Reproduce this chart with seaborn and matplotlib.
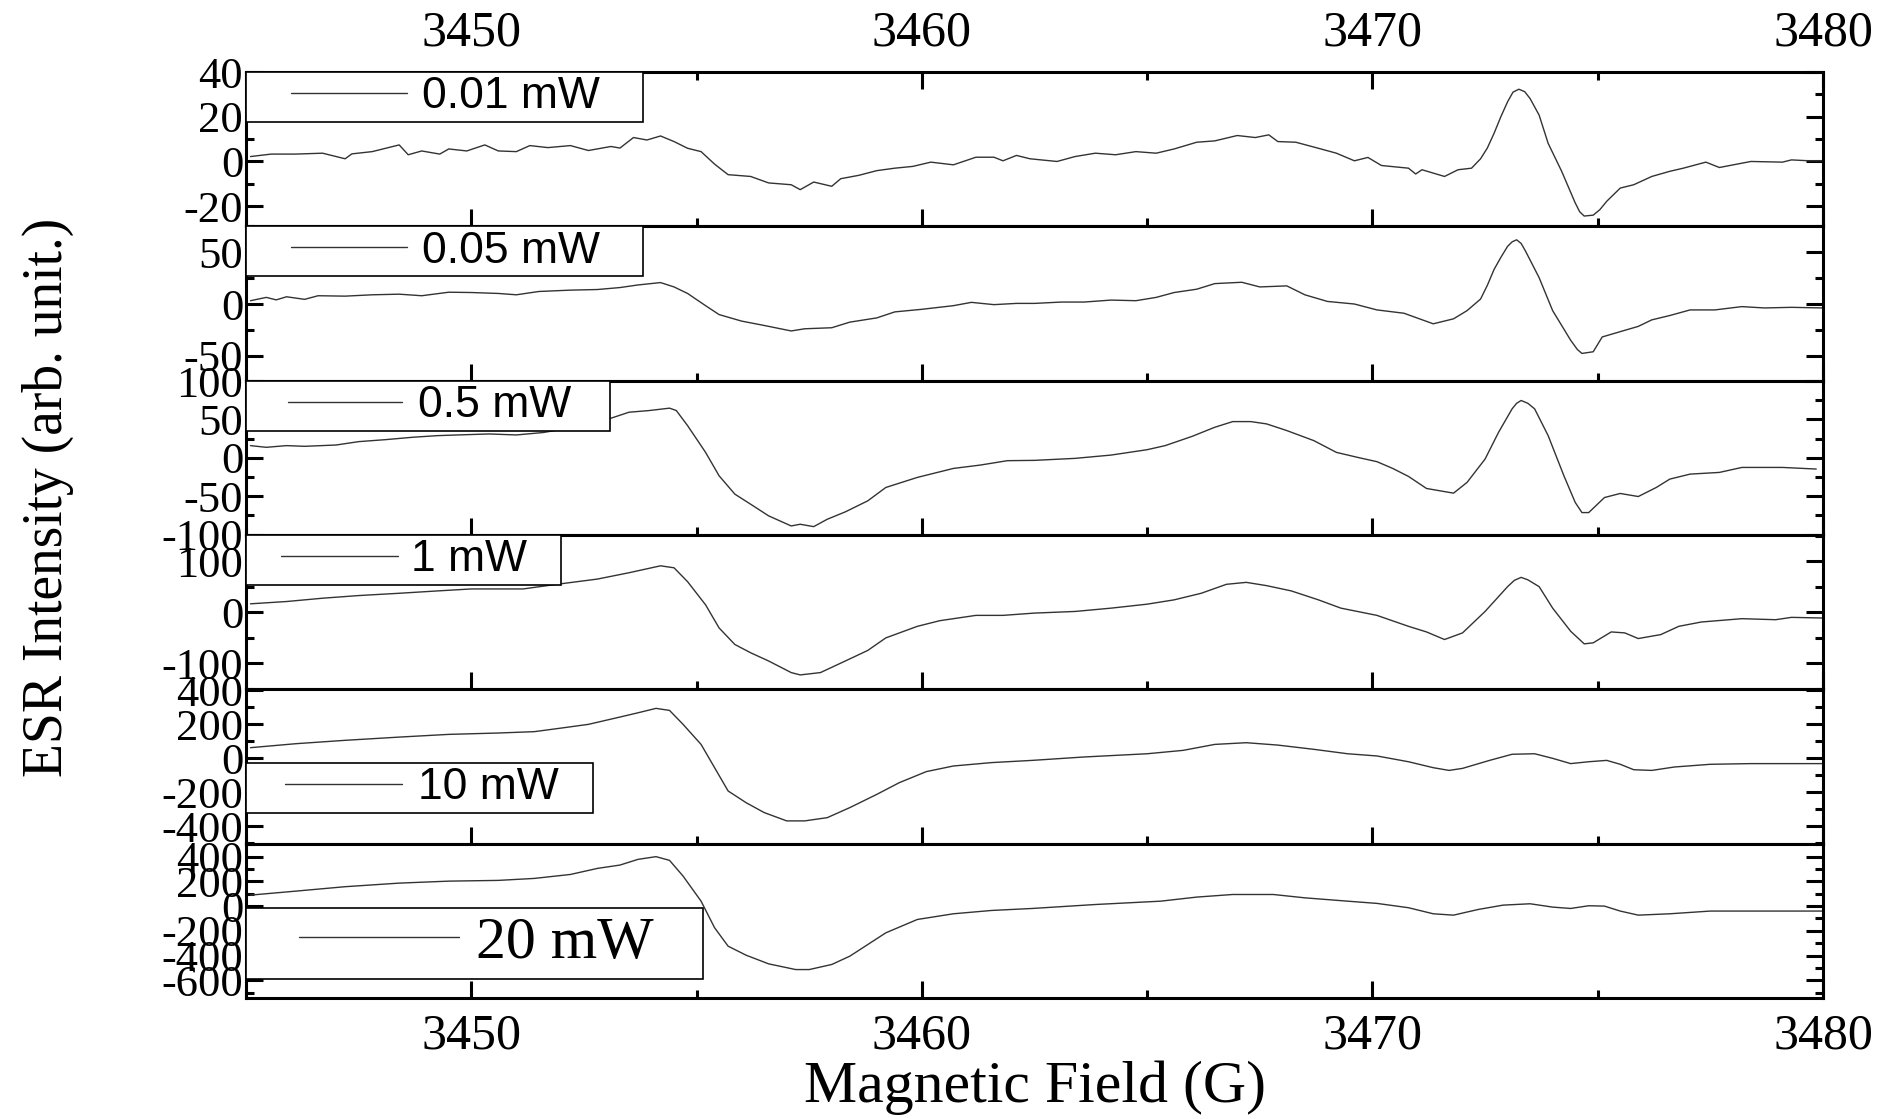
import matplotlib
matplotlib.use("Agg")
import matplotlib.pyplot as plt
import seaborn as sns
import pandas as pd
from matplotlib.lines import Line2D
from matplotlib.legend_handler import HandlerBase
from matplotlib.ticker import MultipleLocator
from matplotlib.font_manager import FontProperties

# ---------------- data (field in G, intensity in arb. units) ----------------
p_001 = [(3445.1, 2.2), (3445.56, 3.3), (3446.1, 3.3), (3446.7, 3.7), (3447.2, 1.2), (3447.35, 3.4),
         (3447.8, 4.4), (3448.4, 7.4), (3448.6, 3.0), (3448.9, 4.7), (3449.3, 3.3), (3449.5, 5.6),
         (3449.9, 4.7), (3450.3, 7.4), (3450.6, 4.7), (3451.0, 4.4), (3451.3, 7.1), (3451.7, 6.2),
         (3452.2, 7.1), (3452.6, 4.9), (3453.1, 6.7), (3453.3, 6.0), (3453.6, 10.7), (3453.9, 9.6),
         (3454.2, 11.4), (3454.5, 8.9), (3454.8, 5.9), (3455.1, 4.4), (3455.4, -1.2), (3455.7, -5.9),
         (3456.2, -6.7), (3456.6, -9.6), (3457.1, -10.4), (3457.3, -12.6), (3457.6, -9.2), (3458.0, -11.1),
         (3458.2, -7.7), (3458.6, -6.2), (3459.0, -4.1), (3459.4, -3.0), (3459.8, -2.2), (3460.2, -0.3),
         (3460.7, -1.5), (3461.2, 1.9), (3461.6, 1.9), (3461.8, 0.3), (3462.1, 2.7), (3462.4, 1.2),
         (3463.0, 0.0), (3463.4, 2.2), (3463.85, 3.7), (3464.3, 3.0), (3464.75, 4.4), (3465.2, 3.7),
         (3465.6, 5.6), (3466.1, 8.6), (3466.5, 9.2), (3467.0, 11.6), (3467.4, 10.7), (3467.7, 11.9),
         (3467.9, 8.9), (3468.3, 8.6), (3468.8, 5.9), (3469.2, 3.7), (3469.6, 0.3), (3469.9, 1.8),
         (3470.2, -1.8), (3470.8, -3.0), (3470.96, -5.6), (3471.1, -3.7), (3471.6, -6.7), (3471.9, -3.7),
         (3472.2, -3.0), (3472.4, 1.2), (3472.55, 6.0), (3472.7, 12.6), (3472.85, 20.0), (3473.0, 26.7),
         (3473.12, 31.0), (3473.25, 32.3), (3473.38, 31.2), (3473.5, 28.1), (3473.7, 20.7), (3473.9, 8.1),
         (3474.2, -4.4), (3474.5, -18.5), (3474.6, -22.5), (3474.7, -24.4), (3474.9, -24.0), (3475.05, -21.5),
         (3475.2, -17.8), (3475.5, -11.9), (3475.8, -10.4), (3476.2, -6.7), (3476.6, -4.4), (3476.9, -3.0),
         (3477.4, -0.3), (3477.7, -2.7), (3478.4, 0.0), (3479.1, -0.3), (3479.3, 0.7), (3479.7, 0.3),
         (3480.0, 0.3)]

p_005 = [(3445.1, 3.2), (3445.45, 6.4), (3445.67, 4.0), (3445.9, 7.0), (3446.3, 4.5), (3446.6, 8.0),
         (3447.2, 7.6), (3447.8, 8.9), (3448.4, 9.5), (3448.9, 8.0), (3449.5, 11.4), (3450.0, 11.1),
         (3450.6, 10.2), (3451.0, 8.9), (3451.5, 12.1), (3452.2, 13.4), (3452.8, 14.0), (3453.3, 15.9),
         (3453.7, 18.4), (3454.2, 20.7), (3454.5, 16.5), (3454.8, 10.2), (3455.2, -1.6), (3455.5, -10.2),
         (3456.0, -16.5), (3456.5, -20.7), (3457.1, -26.0), (3457.4, -23.9), (3458.0, -22.9), (3458.4, -17.5),
         (3459.0, -13.4), (3459.4, -7.6), (3460.0, -5.1), (3460.7, -1.6), (3461.1, 1.6), (3461.6, -0.6),
         (3462.1, 0.6), (3462.5, 0.6), (3463.1, 1.9), (3463.6, 1.9), (3464.2, 3.8), (3464.75, 3.2),
         (3465.2, 6.4), (3465.6, 11.1), (3466.1, 14.3), (3466.5, 19.7), (3467.1, 21.0), (3467.5, 16.5),
         (3468.1, 17.5), (3468.5, 8.9), (3469.0, 2.5), (3469.6, 0.0), (3470.1, -5.7), (3470.7, -8.9),
         (3471.35, -19.1), (3471.8, -14.3), (3472.1, -6.4), (3472.4, 4.8), (3472.55, 18.0), (3472.7, 33.4),
         (3472.85, 45.0), (3473.0, 55.7), (3473.1, 60.0), (3473.2, 62.0), (3473.3, 58.5), (3473.4, 50.9),
         (3473.7, 25.4), (3474.0, -6.4), (3474.4, -35.0), (3474.55, -44.0), (3474.65, -47.7), (3474.9, -46.1),
         (3475.1, -31.8), (3475.6, -25.4), (3475.9, -21.6), (3476.2, -15.3), (3476.6, -11.1), (3477.05, -5.7),
         (3477.6, -5.7), (3478.2, -2.5), (3478.7, -3.8), (3479.3, -3.2), (3480.0, -3.8)]

p_05 = [(3445.1, 15.9), (3445.45, 13.7), (3445.9, 15.9), (3446.3, 15.0), (3447.0, 16.7), (3447.5, 21.1),
        (3448.1, 23.7), (3448.7, 26.8), (3449.25, 28.9), (3449.7, 29.8), (3450.4, 31.1), (3451.0, 29.8),
        (3451.6, 33.0), (3452.3, 40.0), (3453.1, 51.6), (3453.5, 59.4), (3453.95, 61.6), (3454.4, 64.7),
        (3454.55, 61.6), (3454.8, 42.0), (3455.2, 7.1), (3455.5, -23.4), (3455.85, -47.3), (3456.2, -60.4),
        (3456.6, -75.6), (3457.1, -88.7), (3457.3, -86.5), (3457.6, -89.6), (3457.9, -80.0), (3458.3, -70.4),
        (3458.8, -56.0), (3459.2, -38.6), (3459.9, -25.5), (3460.7, -13.8), (3461.3, -9.4), (3461.9, -3.7),
        (3462.5, -3.3), (3463.4, -0.7), (3464.2, 3.6), (3465.0, 10.6), (3465.4, 15.9), (3466.0, 28.0),
        (3466.5, 39.8), (3466.9, 47.2), (3467.3, 47.2), (3467.65, 44.2), (3468.1, 35.5), (3468.7, 22.4),
        (3469.2, 7.1), (3469.7, 0.2), (3470.1, -5.0), (3470.45, -13.8), (3470.8, -24.2), (3471.2, -39.9),
        (3471.8, -46.0), (3472.1, -32.0), (3472.5, -1.6), (3472.8, 33.3), (3473.1, 63.8), (3473.2, 71.0),
        (3473.3, 74.7), (3473.45, 71.0), (3473.6, 63.8), (3473.9, 28.9), (3474.25, -23.4), (3474.5, -58.0),
        (3474.65, -71.3), (3474.8, -71.3), (3475.15, -51.7), (3475.5, -46.4), (3475.9, -50.4), (3476.3, -38.6),
        (3476.6, -27.7), (3477.05, -21.2), (3477.7, -19.0), (3478.2, -12.5), (3479.1, -12.5), (3479.85, -14.6)]

p_1 = [(3445.1, 16.9), (3445.9, 21.4), (3446.7, 27.9), (3447.5, 33.1), (3448.4, 37.6), (3449.25, 42.2),
       (3450.0, 46.1), (3451.15, 46.1), (3451.9, 55.2), (3452.8, 65.5), (3453.5, 77.9), (3454.2, 91.5),
       (3454.5, 87.6), (3454.8, 60.4), (3455.2, 14.9), (3455.5, -30.5), (3455.85, -63.0), (3456.2, -79.2),
       (3456.6, -95.4), (3457.1, -118.1), (3457.3, -122.7), (3457.75, -118.1), (3458.3, -95.4), (3458.8, -74.6),
       (3459.2, -50.0), (3459.9, -27.3), (3460.4, -16.2), (3461.2, -5.8), (3461.8, -5.8), (3462.5, -1.3),
       (3463.4, 1.9), (3464.2, 8.4), (3465.0, 16.2), (3465.6, 24.7), (3466.2, 37.6), (3466.76, 55.2),
       (3467.2, 59.0), (3467.65, 52.6), (3468.2, 42.2), (3468.8, 24.7), (3469.3, 8.4), (3470.1, -5.8),
       (3470.8, -27.3), (3471.2, -38.3), (3471.6, -53.2), (3472.0, -40.2), (3472.5, 1.9), (3473.0, 50.6),
       (3473.15, 63.0), (3473.3, 68.8), (3473.45, 64.0), (3473.7, 50.6), (3474.0, 8.4), (3474.4, -37.0),
       (3474.7, -61.7), (3474.9, -59.7), (3475.3, -38.3), (3475.6, -40.2), (3475.9, -51.3), (3476.4, -43.5),
       (3476.8, -27.3), (3477.3, -18.8), (3478.2, -12.3), (3478.95, -14.3), (3479.3, -9.7), (3480.0, -11.0)]

p_10 = [(3445.1, 62.7), (3446.1, 86), (3447.2, 106), (3448.4, 125), (3449.5, 141), (3450.6, 149),
        (3451.4, 157), (3452.05, 180), (3452.6, 200), (3453.3, 243), (3453.7, 268), (3454.1, 294),
        (3454.4, 282), (3454.7, 200), (3455.1, 82), (3455.4, -55), (3455.7, -192), (3456.1, -261),
        (3456.5, -319), (3457.0, -368), (3457.4, -368), (3457.9, -349), (3458.4, -290), (3459.0, -212),
        (3459.5, -143), (3460.1, -78), (3460.7, -45), (3461.55, -25), (3462.45, -12), (3463.6, 8),
        (3465.0, 27), (3465.8, 47), (3466.5, 82), (3467.2, 92), (3467.9, 78), (3468.7, 53),
        (3469.45, 27), (3470.1, 14), (3470.8, -20), (3471.35, -55), (3471.7, -71), (3472.0, -59),
        (3472.6, -12), (3473.1, 24), (3473.6, 27), (3474.0, 0), (3474.4, -31), (3474.8, -20),
        (3475.2, -12), (3475.5, -35), (3475.8, -67), (3476.2, -71), (3476.7, -51), (3477.5, -35),
        (3478.4, -31), (3479.1, -31), (3480.0, -31)]

p_20 = [(3445.1, 89), (3446.1, 121), (3447.2, 157), (3448.4, 186), (3449.5, 202), (3450.6, 208),
        (3451.4, 224), (3452.2, 256), (3452.8, 305), (3453.3, 332), (3453.7, 378), (3454.1, 400),
        (3454.4, 370), (3454.7, 243), (3455.1, 40), (3455.4, -175), (3455.7, -324), (3456.1, -397),
        (3456.6, -467), (3457.2, -513), (3457.5, -513), (3458.0, -472), (3458.4, -405), (3459.2, -216),
        (3459.9, -108), (3460.7, -62), (3461.55, -35), (3462.45, -19), (3463.85, 13), (3465.3, 40),
        (3466.1, 73), (3466.9, 94), (3467.8, 94), (3468.5, 67), (3469.45, 40), (3470.1, 22),
        (3470.8, -13), (3471.35, -62), (3471.8, -73), (3472.35, -27), (3472.9, 8), (3473.5, 19),
        (3474.0, -8), (3474.4, -19), (3474.8, 3), (3475.15, 0), (3475.5, -40), (3475.9, -73),
        (3476.6, -62), (3477.5, -40), (3478.2, -40), (3480.0, -40)]

labels = ["0.01 mW", "0.05 mW", "0.5 mW", "1 mW", "10 mW", "20 mW"]
series = [p_001, p_005, p_05, p_1, p_10, p_20]
y_limits = [(-29, 40), (-74, 75), (-100.5, 100.5), (-151, 152), (-502, 406), (-743, 505)]
y_major = [20, 50, 50, 100, 200, 200]
y_minor = [10, 25, 25, 50, 100, 100]
x_ticks = [3450, 3460, 3470, 3480]

# legend layout: (top anchor, width, family, size, handlelength, line offset frac, handletextpad, borderpad)
legend_cfg = [
    (1.0, 0.252, "Liberation Sans", 32, 3.52, 0.28, 0.33, 0.10),
    (1.0, 0.252, "Liberation Sans", 32, 3.52, 0.28, 0.33, 0.10),
    (1.0, 0.231, "Liberation Sans", 32, 3.41, 0.27, 0.35, 0.10),
    (1.0, 0.200, "Liberation Sans", 32, 3.31, 0.23, 0.30, 0.10),
    (0.524, 0.220, "Liberation Sans", 32, 3.41, 0.25, 0.35, 0.10),
    (0.586, 0.290, "Liberation Serif", 43, 3.42, 0.25, 0.29, 0.14),
]


class ShiftedLine(HandlerBase):
    def __init__(self, offset, **kw):
        super().__init__(**kw)
        self.offset = offset  # in fontsize units, from the frame's left edge

    def create_artists(self, legend, orig_handle, xdescent, ydescent, width, height, fontsize, trans):
        x0 = -xdescent + max(self.offset * fontsize - legend.borderpad * fontsize, 0)
        x1 = -xdescent + width
        y = -ydescent + height / 2.0
        ln = Line2D([x0, x1], [y, y], color=orig_handle.get_color(),
                    linewidth=orig_handle.get_linewidth())
        ln.set_transform(trans)
        return [ln]


sns.set_theme(style="ticks")
plt.rcParams["font.family"] = ["Liberation Serif", "DejaVu Serif"]
plt.rcParams["axes.unicode_minus"] = False

fig = plt.figure(figsize=(18.84, 11.19), dpi=100)
gs = fig.add_gridspec(6, 1, left=246 / 1884, right=1823 / 1884,
                      top=1 - 72 / 1119, bottom=1 - 998 / 1119, hspace=0)

axes = []
for i in range(6):
    ax = fig.add_subplot(gs[i], sharex=axes[0] if axes else None)
    axes.append(ax)
    df = pd.DataFrame(series[i], columns=["field", "intensity"])
    sns.lineplot(data=df, x="field", y="intensity", ax=ax, color="#333333",
                 linewidth=1.0, estimator=None, sort=False)
    ax.set_xlim(3445, 3480)
    ax.set_ylim(*y_limits[i])
    ax.set_xlabel("")
    ax.set_ylabel("")
    ax.set_xticks(x_ticks)
    ax.xaxis.set_minor_locator(MultipleLocator(5))
    ax.yaxis.set_major_locator(MultipleLocator(y_major[i]))
    ax.yaxis.set_minor_locator(MultipleLocator(y_minor[i]))
    ax.tick_params(which="both", direction="in", left=True, right=True,
                   bottom=True, top=(i == 0), width=2.2, color="black")
    ax.tick_params(which="major", length=12)
    ax.tick_params(which="minor", length=6)
    ax.tick_params(axis="x", labelbottom=(i == 5), labeltop=(i == 0),
                   labelsize=36, pad=11, labelcolor="black")
    ax.tick_params(axis="y", labelsize=32, pad=2, labelcolor="black")
    for sp in ax.spines.values():
        sp.set_linewidth(2.2)
        sp.set_color("black")
        sp.set_visible(True)

    line = ax.get_lines()[0]
    top, w, fam, size, hl, frac, htp, bp = legend_cfg[i]
    leg = ax.legend(handles=[line], labels=[labels[i]], loc="upper left",
                    bbox_to_anchor=(0, top, w, 0), mode="expand",
                    borderaxespad=0, borderpad=bp, handlelength=hl,
                    handletextpad=htp, frameon=True, fancybox=False,
                    framealpha=1, edgecolor="black", facecolor="white",
                    prop=FontProperties(family=fam, size=size),
                    handler_map={line: ShiftedLine(frac * (hl + bp))})
    leg.get_frame().set_linewidth(1.2)
    for t in leg.get_texts():
        t.set_color("black")

fig.text(1034.5 / 1884, 1 - 1088 / 1119, "Magnetic Field (G)", ha="center",
         va="center", fontsize=43, color="black")
fig.text(48 / 1884, 1 - 497 / 1119, "ESR Intensity (arb. unit.)", rotation=90,
         ha="center", va="center", fontsize=40, color="black")

fig.savefig("out.png", dpi=100)
